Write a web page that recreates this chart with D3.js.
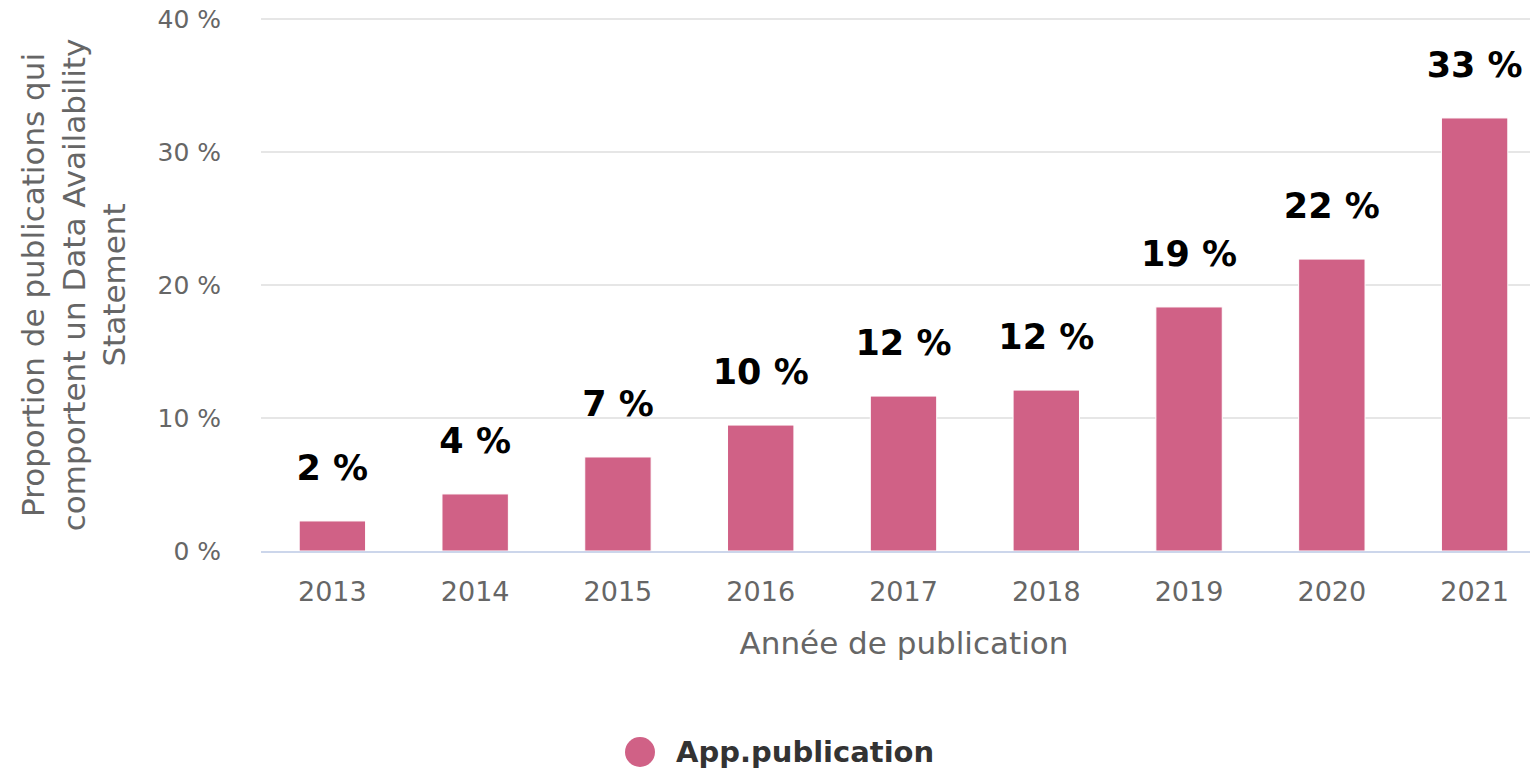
<!DOCTYPE html>
<html><head><meta charset="utf-8">
<script src="https://cdn.jsdelivr.net/npm/d3@7"></script>
<style>
html,body{margin:0;padding:0;background:#fff;}
svg{display:block;font-family:"DejaVu Sans",sans-serif;}
</style></head>
<body>
<svg id="chart" width="1530" height="774"></svg>
<script>
const years = ["2013","2014","2015","2016","2017","2018","2019","2020","2021"];
const values = [2.26, 4.29, 7.07, 9.47, 11.65, 12.1, 18.35, 21.95, 32.56];
const labels = ["2 %","4 %","7 %","10 %","12 %","12 %","19 %","22 %","33 %"];
const yTicks = [0, 10, 20, 30, 40];
const seriesName = "App.publication";
const yTitleLines = ["Proportion de publications qui","comportent un Data Availability","Statement"];
const xTitle = "Année de publication";

(function () {
const svg = d3.select("#chart");
const color = "#d06186";
const pLeft = 261, pRight = 1546, pTop = 19, pBottom = 551;

const x = d3.scaleBand().domain(years).range([pLeft, pRight]).padding(0);
const y = d3.scaleLinear().domain([0, 40]).range([pBottom, pTop]);
const barW = x.bandwidth() * 0.465;

// grid
svg.append("g").selectAll("line").data(yTicks.filter(d => d > 0)).join("line")
  .attr("x1", pLeft).attr("x2", 1530)
  .attr("y1", d => y(d)).attr("y2", d => y(d))
  .attr("stroke", "#e6e6e6").attr("stroke-width", 2);

// y tick labels
svg.append("g").selectAll("text").data(yTicks).join("text")
  .attr("x", 221).attr("y", d => y(d)).attr("dy", "0.35em")
  .attr("text-anchor", "end").attr("fill", "#666").attr("font-size", 25)
  .text(d => d + " %");

// bars
svg.append("g").selectAll("rect").data(years).join("rect")
  .attr("x", d => x(d) + (x.bandwidth() - barW) / 2)
  .attr("width", barW)
  .attr("y", (d, i) => y(values[i]))
  .attr("height", (d, i) => pBottom - y(values[i]))
  .attr("fill", color).attr("stroke", "#fff").attr("stroke-width", 1);

// x axis line
svg.append("line").attr("x1", pLeft).attr("x2", 1530).attr("y1", pBottom + 1).attr("y2", pBottom + 1)
  .attr("stroke", "#ccd6eb").attr("stroke-width", 2);

// x tick labels
svg.append("g").selectAll("text").data(years).join("text")
  .attr("x", d => x(d) + x.bandwidth() / 2).attr("y", 592).attr("dy", "0.35em")
  .attr("text-anchor", "middle").attr("fill", "#666").attr("font-size", 27)
  .text(d => d);

// data labels
svg.append("g").selectAll("text").data(years).join("text")
  .attr("x", d => x(d) + x.bandwidth() / 2)
  .attr("y", (d, i) => y(values[i]) - 41)
  .attr("text-anchor", "middle").attr("fill", "#000").attr("font-size", 35).attr("font-weight", "bold")
  .text((d, i) => labels[i]);

// x title
svg.append("text").attr("x", 904).attr("y", 643).attr("dy", "0.35em")
  .attr("text-anchor", "middle").attr("fill", "#666").attr("font-size", 31).text(xTitle);

// y title
const yBase = [44, 85, 125];
svg.append("g").selectAll("text").data(yTitleLines).join("text")
  .attr("transform", (d, i) => `translate(${yBase[i]},285) rotate(-90)`)
  .attr("text-anchor", "middle").attr("fill", "#666").attr("font-size", 31)
  .text(d => d);

// legend
svg.append("circle").attr("cx", 640).attr("cy", 752).attr("r", 15).attr("fill", color);
svg.append("text").attr("x", 676).attr("y", 752).attr("dy", "0.35em")
  .attr("fill", "#333").attr("font-size", 29).attr("font-weight", "bold").text(seriesName);
})();
</script>
</body></html>
